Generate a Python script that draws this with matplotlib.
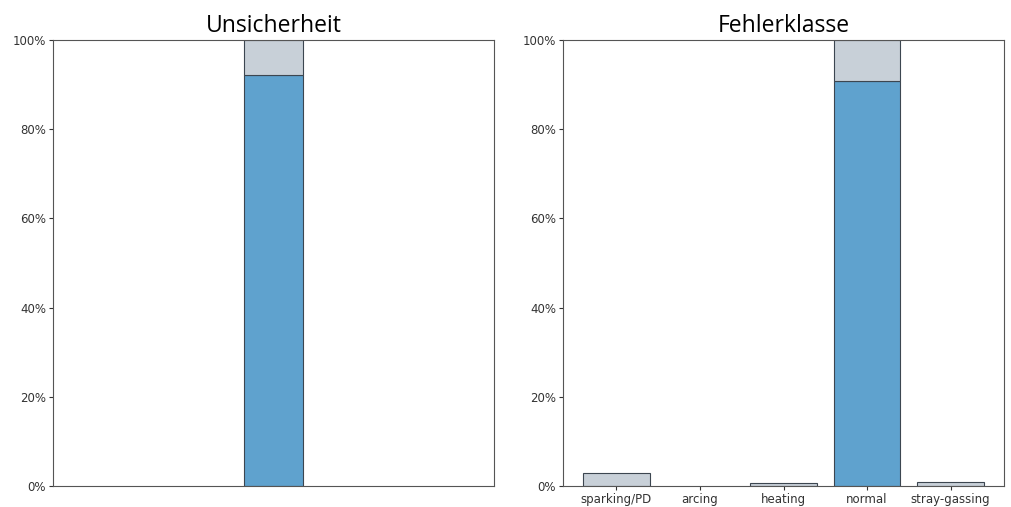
import numpy as np
import matplotlib
matplotlib.use('Agg')
import matplotlib.pyplot as plt
from matplotlib.ticker import PercentFormatter

# Fehlerklassen und Wahrscheinlichkeiten (in %)
classes = ['sparking/PD', 'arcing', 'heating', 'normal', 'stray-gassing']
prob = [0.0, 0.0, 0.0, 90.9, 0.0]
unc = [2.85, 0.0, 0.6, 9.1, 0.9]

# Unsicherheit (ein Balken)
unc_prob = [92.1]
unc_rest = [7.9]

blue = '#5fa2ce'
grey = '#c8d0d8'
edge = '#3c4650'

def lw(vals):
    # keine Kante bei leeren Balken
    return [0.8 if v > 0 else 0 for v in vals]

plt.rcParams['font.family'] = 'DejaVu Sans'
fig = plt.figure(figsize=(10.11, 5.07), dpi=100)
ax1 = fig.add_axes([0.0524, 0.0414, 0.4362, 0.8797])
ax2 = fig.add_axes([0.5569, 0.0414, 0.4362, 0.8797])

x1 = np.arange(len(unc_prob))
ax1.bar(x1, unc_prob, width=0.8, color=blue, edgecolor=edge, linewidth=lw(unc_prob))
ax1.bar(x1, unc_rest, bottom=unc_prob, width=0.8, color=grey, edgecolor=edge, linewidth=lw(unc_rest))
ax1.set_xlim(-2.99, 2.99)
ax1.set_xticks([])

x2 = np.arange(len(classes))
ax2.bar(x2, prob, width=0.8, color=blue, edgecolor=edge, linewidth=lw(prob))
ax2.bar(x2, unc, bottom=prob, width=0.8, color=grey, edgecolor=edge, linewidth=lw(unc))
ax2.set_xticks(x2)
ax2.set_xticklabels(classes)

for ax, title in [(ax1, 'Unsicherheit'), (ax2, 'Fehlerklasse')]:
    ax.set_ylim(0, 100)
    ax.set_yticks(np.arange(0, 101, 20))
    ax.yaxis.set_major_formatter(PercentFormatter(decimals=0))
    ax.tick_params(labelsize=8.5, colors='#333333', length=3, pad=2)
    for s in ax.spines.values():
        s.set_color('#555555')
    ax.set_title(title, fontsize=16.5, family='Open Sans', pad=6)

fig.savefig('out.png', dpi=100)
